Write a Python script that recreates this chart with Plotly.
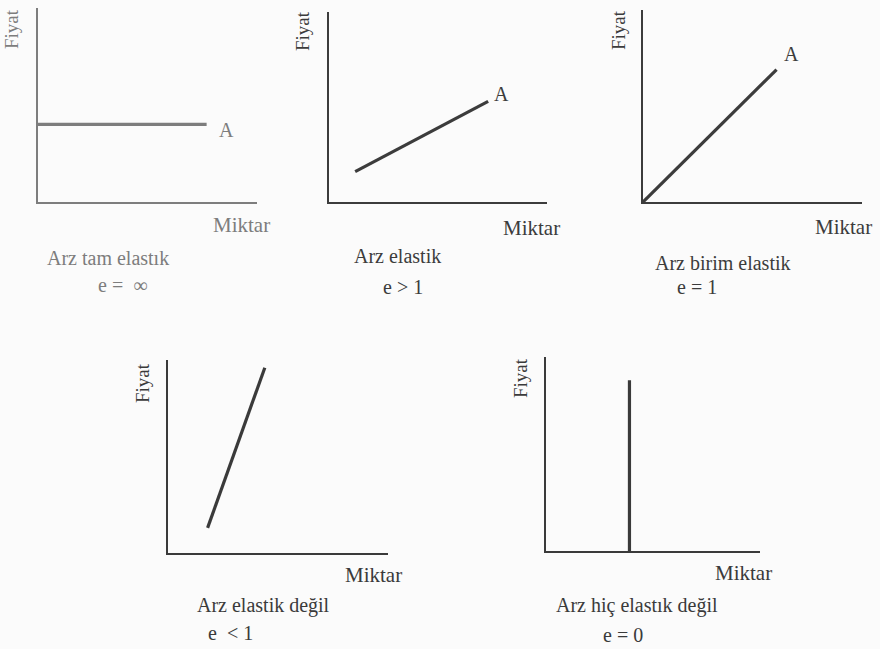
import plotly.graph_objects as go

W, H = 880, 649
OFF = 0  # page body margin removed via post_script

# ---- data ----
titles = ["Arz tam elastık", "Arz elastik", "Arz birim elastik", "Arz elastik değil", "Arz hiç elastık değil"]
elasticity = ["e =  ∞", "e > 1", "e = 1", "e  < 1", "e = 0"]
curve_x = [[0, 7.7], [1.2, 7.3], [0, 6.1], [1.8, 4.4], [3.9, 3.9]]
curve_y = [[4.0, 4.0], [1.6, 5.3], [0, 6.9], [1.3, 9.6], [0, 8.8]]
curve_label = ["A", "A", "A", "A", "A"]
label_xy = [[8.6, 3.7], [7.9, 5.7], [6.8, 7.7], [4.8, 10.5], [3.6, 10.1]]
y_title = "Fiyat"
x_title = "Miktar"

# ---- layout (pixel boxes of each panel: left, right, top, bottom) ----
boxes = [(38, 257, 8, 202), (329, 547, 12, 202), (643, 862, 10, 202),
         (168, 388, 360, 553), (546, 760, 357, 551)]
fiyat_pos = [(12, 29), (302, 31), (619, 30), (142, 383), (520, 378)]
miktar_pos = [(241, 225), (531, 228), (843, 227), (373, 575), (743, 573)]
title_pos = [(108, 258), (397, 256), (723, 263), (263, 605), (637, 605)]
e_pos = [(122, 285), (403, 287), (697, 287), (230, 633), (623, 635)]
ink = ["#7d7d7d", "#3c3c3c", "#3c3c3c", "#3a3a3a", "#3a3a3a"]
FONT = "Liberation Serif"

def px(x):
    return (x - OFF) / W

def py(y):
    return 1 - (y - OFF) / H

fig = go.Figure()
annotations = []

def ann(x, y, text, size, color, angle=0, xref="paper", yref="paper"):
    if xref == "paper":
        x, y = px(x), py(y)
    annotations.append(dict(x=x, y=y, xref=xref, yref=yref, text=text, textangle=angle,
                            showarrow=False, xanchor="center", yanchor="middle",
                            font=dict(family=FONT, size=size, color=color)))

for i in range(5):
    l, r, t, b = boxes[i]
    xa = "xaxis" if i == 0 else f"xaxis{i+1}"
    ya = "yaxis" if i == 0 else f"yaxis{i+1}"
    xr = "x" if i == 0 else f"x{i+1}"
    yr = "y" if i == 0 else f"y{i+1}"
    common = dict(showgrid=False, zeroline=False, showticklabels=False, ticks="",
                  showline=True, linewidth=2.2, linecolor=ink[i], fixedrange=True)
    fig.update_layout(**{
        xa: dict(domain=[px(l), px(r)], range=[0, 10], anchor=yr, **common),
        ya: dict(domain=[py(b), py(t)], range=[0, 10], anchor=xr, **common),
    })
    fig.add_trace(go.Scatter(x=curve_x[i], y=curve_y[i], mode="lines",
                             line=dict(color=ink[i], width=3.2),
                             xaxis=xr, yaxis=yr, showlegend=False, hoverinfo="skip",
                             cliponaxis=False))
    tc = ink[i]
    ann(label_xy[i][0], label_xy[i][1], curve_label[i], 20, tc, xref=xr, yref=yr)
    ann(fiyat_pos[i][0], fiyat_pos[i][1], y_title, 19, tc, angle=-90)
    ann(miktar_pos[i][0], miktar_pos[i][1], x_title, 21, tc)
    ann(title_pos[i][0], title_pos[i][1], titles[i], 20, tc)
    ann(e_pos[i][0], e_pos[i][1], elasticity[i], 20, tc)

fig.update_layout(width=W, height=H, margin=dict(l=0, r=0, t=0, b=0),
                  paper_bgcolor="#fbfbfb", plot_bgcolor="rgba(0,0,0,0)",
                  annotations=annotations, showlegend=False)
fig.write_html("out.html", config={"displayModeBar": False},
               post_script="document.body.style.margin='0';document.body.style.overflow='hidden';")
